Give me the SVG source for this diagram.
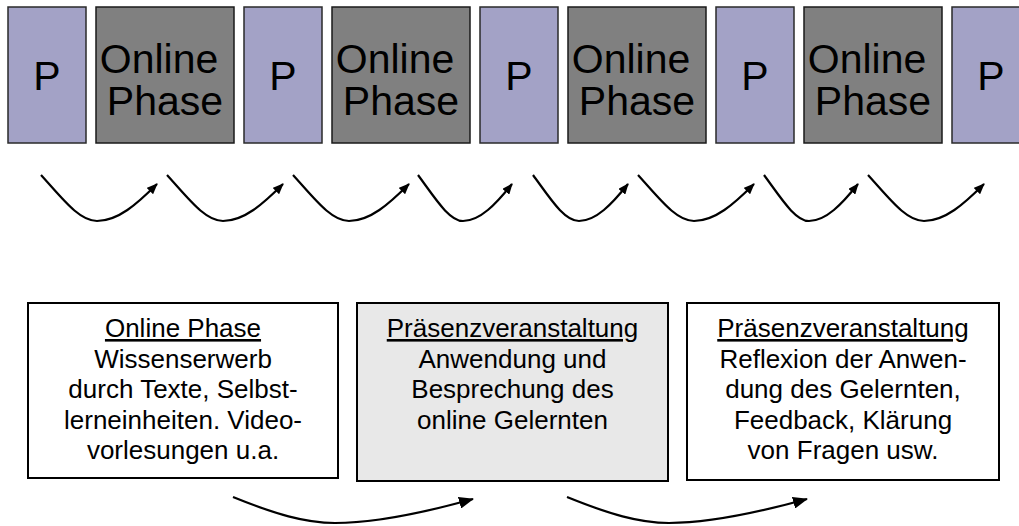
<svg xmlns="http://www.w3.org/2000/svg" width="1019" height="526" viewBox="0 0 1019 526">
  <style>
    .p { fill: #a3a2c6; stroke: #2a2a2a; stroke-width: 1.5; }
    .on { fill: #808080; stroke: #1a1a1a; stroke-width: 1.5; }
    .big { font-family: "Liberation Sans", Arial, sans-serif; font-size: 41px; fill: #000; text-anchor: middle; }
    .card { stroke: #000; stroke-width: 2; }
    .txt { font-family: "Liberation Sans", Arial, sans-serif; font-size: 26px; fill: #000; text-anchor: middle; }
    .head { text-decoration: underline; }
    .flow { fill: none; stroke: #000; stroke-width: 2.2; }
  </style>
  <defs>
    <marker id="tip" viewBox="0 0 11 9" refX="10" refY="4.5" markerWidth="11" markerHeight="9" markerUnits="userSpaceOnUse" orient="auto">
      <path d="M0,0 L11,4.5 L0,9 z" fill="#000"/>
    </marker>
    <marker id="tipL" viewBox="0 0 15 12" refX="14" refY="6" markerWidth="15" markerHeight="12" markerUnits="userSpaceOnUse" orient="auto">
      <path d="M0,0 L15,6 L0,12 z" fill="#000"/>
    </marker>
  </defs>
  <rect width="1019" height="526" fill="#fff"/>

  <!-- top row: alternating presence (P) and online blocks -->
  <g id="p1"><rect class="p" x="8" y="7" width="78" height="136"/><text class="big" x="47" y="90">P</text></g>
  <g id="online1"><rect class="on" x="96" y="7" width="138" height="136"/><text class="big" x="159" y="73">Online</text><text class="big" x="165" y="115">Phase</text></g>
  <g id="p2"><rect class="p" x="244" y="7" width="78" height="136"/><text class="big" x="283" y="90">P</text></g>
  <g id="online2"><rect class="on" x="332" y="7" width="138" height="136"/><text class="big" x="395" y="73">Online</text><text class="big" x="401" y="115">Phase</text></g>
  <g id="p3"><rect class="p" x="480" y="7" width="78" height="136"/><text class="big" x="519" y="90">P</text></g>
  <g id="online3"><rect class="on" x="568" y="7" width="138" height="136"/><text class="big" x="631" y="73">Online</text><text class="big" x="637" y="115">Phase</text></g>
  <g id="p4"><rect class="p" x="716" y="7" width="78" height="136"/><text class="big" x="755" y="90">P</text></g>
  <g id="online4"><rect class="on" x="804" y="7" width="138" height="136"/><text class="big" x="867" y="73">Online</text><text class="big" x="873" y="115">Phase</text></g>
  <g id="p5"><rect class="p" x="952" y="7" width="78" height="136"/><text class="big" x="991" y="90">P</text></g>

  <!-- bottom row: description cards -->
  <g id="card-online">
    <rect class="card" x="28" y="303" width="310" height="175" fill="#fff"/>
    <text class="txt head" x="183" y="337">Online Phase</text>
    <text class="txt" x="183" y="367.5">Wissenserwerb</text>
    <text class="txt" x="183" y="398">durch Texte, Selbst-</text>
    <text class="txt" x="183" y="428.5">lerneinheiten. Video-</text>
    <text class="txt" x="183" y="459">vorlesungen u.a.</text>
  </g>
  <g id="card-praesenz1">
    <rect class="card" x="357" y="303" width="311" height="178" fill="#e8e8e8"/>
    <text class="txt head" x="512.5" y="337">Präsenzveranstaltung</text>
    <text class="txt" x="512.5" y="367.5">Anwendung und</text>
    <text class="txt" x="512.5" y="398">Besprechung des</text>
    <text class="txt" x="512.5" y="428.5">online Gelernten</text>
  </g>
  <g id="card-praesenz2">
    <rect class="card" x="687" y="303" width="312" height="177" fill="#fff"/>
    <text class="txt head" x="843" y="337">Präsenzveranstaltung</text>
    <text class="txt" x="843" y="367.5">Reflexion der Anwen-</text>
    <text class="txt" x="843" y="398">dung des Gelernten,</text>
    <text class="txt" x="843" y="428.5">Feedback, Klärung</text>
    <text class="txt" x="843" y="459">von Fragen usw.</text>
  </g>

  <!-- connectors -->
  <g id="connectors">
    <path class="flow" marker-end="url(#tip)" d="M41,175 C62,198 79,221 97,221 C118,221 137,204 157,184"/>
    <path class="flow" marker-end="url(#tip)" d="M167,175 C188,198 205,221 223,221 C244,221 263,204 283,184"/>
    <path class="flow" marker-end="url(#tip)" d="M293,175 C314,198 331,221 349,221 C370,221 389,204 409,184"/>
    <path class="flow" marker-end="url(#tip)" d="M418,175 C435,198 449,221 463,221 C480,221 496,204 512,184"/>
    <path class="flow" marker-end="url(#tip)" d="M533,175 C550,198 564,221 579,221 C596,221 612,204 628,184"/>
    <path class="flow" marker-end="url(#tip)" d="M638,175 C659,198 676,221 694,221 C715,221 734,204 754,184"/>
    <path class="flow" marker-end="url(#tip)" d="M764,175 C781,198 795,221 809,221 C826,221 842,204 858,184"/>
    <path class="flow" marker-end="url(#tip)" d="M868,175 C889,198 906,221 924,221 C945,221 964,204 984,184"/>
    <path class="flow" stroke-width="2" marker-end="url(#tipL)" d="M233,497 C275,514 305,523 335,523 C380,523 430,511 473,499"/>
    <path class="flow" stroke-width="2" marker-end="url(#tipL)" d="M567,497 C609,514 639,523 669,523 C714,523 764,511 807,499"/>
  </g>
</svg>
